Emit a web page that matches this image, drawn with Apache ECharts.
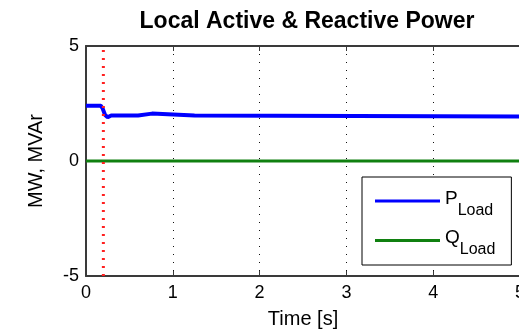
<!DOCTYPE html>
<html>
<head>
<meta charset="utf-8">
<script src="https://cdn.jsdelivr.net/npm/echarts@6/dist/echarts.min.js"></script>
<style>html,body{margin:0;padding:0;background:#fff}#c{width:519px;height:334px}</style>
</head>
<body>
<div id="c"></div>
<script>
// Data
var pTime = [0, 0.17, 0.19, 0.22, 0.25, 0.29, 0.6, 0.62, 0.76, 0.78, 1.25, 1.27, 5];
var pLoad = [2.4, 2.4, 2.3, 2.0, 1.9, 1.98, 1.98, 2.06, 2.06, 1.98, 1.98, 1.93, 1.93];
var qTime = [0, 5];
var qLoad = [0, 0];
var faultTime = 0.2;
var xTicks = [0, 1, 2, 3, 4, 5];
var yTicks = [-5, 0, 5];

function pairs(xs, ys) { return xs.map(function (x, i) { return [x, ys[i]]; }); }

var chart = echarts.init(document.getElementById('c'), null, { renderer: 'canvas' });
var font = 'Liberation Sans, Arial, sans-serif';
var axisCol = '#3a3a3a';
var gridStyle = { show: true, lineStyle: { color: '#111', width: 1, type: [1, 7] } };

chart.setOption({
  animation: false,
  backgroundColor: '#fff',
  title: {
    text: 'Local Active & Reactive Power',
    left: 302, top: 5, textAlign: 'center',
    textStyle: { fontFamily: font, fontWeight: 'bold', fontSize: 23, color: '#000' }
  },
  grid: { left: 86, top: 46, width: 434, height: 230, containLabel: false, outerBoundsMode: 'none' },
  xAxis: [{
    type: 'value', min: xTicks[0], max: xTicks[xTicks.length - 1], interval: 1,
    name: 'Time [s]', nameLocation: 'middle', nameGap: 33,
    nameTextStyle: { fontFamily: font, fontSize: 20, color: '#000' },
    axisLine: { show: true, onZero: false, lineStyle: { color: axisCol, width: 2 } },
    axisTick: { show: true, inside: true, length: 5, lineStyle: { color: axisCol, width: 1 } },
    axisLabel: { show: true, margin: 8, fontFamily: font, fontSize: 18, color: '#000',
      formatter: function (v) { return xTicks.indexOf(v) >= 0 ? String(v) : ''; } },
    splitLine: gridStyle
  }, {
    type: 'value', position: 'top', min: xTicks[0], max: xTicks[xTicks.length - 1], interval: 1,
    axisLine: { show: true, onZero: false, lineStyle: { color: axisCol, width: 2 } },
    axisTick: { show: true, inside: true, length: 5, lineStyle: { color: axisCol, width: 1 } },
    axisLabel: { show: false }, splitLine: { show: false }
  }],
  yAxis: [{
    type: 'value', min: yTicks[0], max: yTicks[yTicks.length - 1], interval: 5,
    name: 'MW, MVAr', nameLocation: 'middle', nameGap: 40,
    nameTextStyle: { fontFamily: font, fontSize: 20, color: '#000' },
    axisLine: { show: true, onZero: false, lineStyle: { color: axisCol, width: 2 } },
    axisTick: { show: true, inside: true, length: 5, lineStyle: { color: axisCol, width: 1 } },
    axisLabel: { show: true, margin: 7, fontFamily: font, fontSize: 18, color: '#000' },
    splitLine: gridStyle
  }],
  legend: {
    orient: 'vertical', left: 362, top: 177,
    padding: [12, 16, 7, 13], itemGap: 10,
    itemWidth: 65, itemHeight: 3, icon: 'rect',
    borderColor: '#000', borderWidth: 1, backgroundColor: '#fff',
    data: ['P', 'Q'],
    formatter: function (n) { return '{a|' + n + '}{b|Load}'; },
    textStyle: {
      fontFamily: font, color: '#000',
      rich: {
        a: { fontFamily: font, fontSize: 19, color: '#000', padding: [0, 0, 5, 0] },
        b: { fontFamily: font, fontSize: 16, color: '#000', padding: [19, 0, 0, 0] }
      }
    }
  },
  series: [{
    name: 'P', type: 'line', data: pairs(pTime, pLoad),
    symbol: 'none', lineStyle: { color: '#0000ff', width: 4 }, itemStyle: { color: '#0000ff' }, z: 3
  }, {
    name: 'Q', type: 'line', data: pairs(qTime, qLoad),
    symbol: 'none', lineStyle: { color: '#108010', width: 3 }, itemStyle: { color: '#108010' }, z: 3
  }, {
    name: 'fault', type: 'line', data: [[faultTime, yTicks[0]], [faultTime, yTicks[yTicks.length - 1]]],
    symbol: 'none', lineStyle: { color: '#ff2020', width: 3, type: [2, 6] }, z: 4, silent: true
  }]
});
</script>
</body>
</html>
